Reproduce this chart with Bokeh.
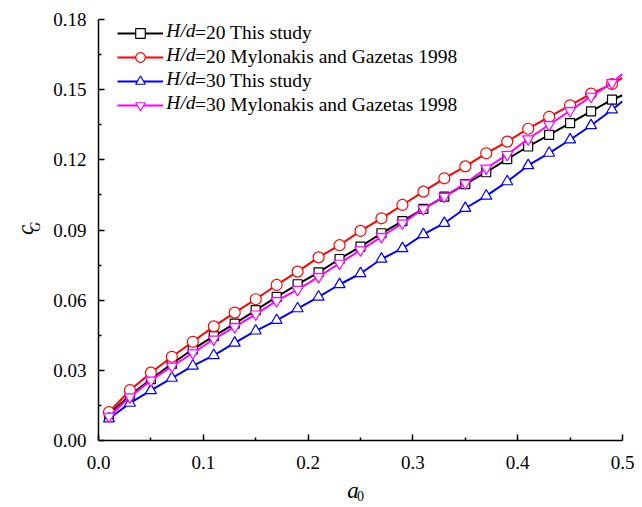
import math
from bokeh.plotting import figure
from bokeh.models import (Range1d, FixedTicker, NumeralTickFormatter, Legend, LegendItem, Label,
                          LinearAxis, CustomJSTickFormatter)
from bokeh.embed import file_html
from bokeh.resources import INLINE

# ---- data ----
a0 = [0.01, 0.03, 0.05, 0.07, 0.09, 0.11, 0.13, 0.15, 0.17, 0.19, 0.21, 0.23, 0.25,
      0.27, 0.29, 0.31, 0.33, 0.35, 0.37, 0.39, 0.41, 0.43, 0.45, 0.47, 0.49, 0.50]

h20_this = [0.0112, 0.0193, 0.0262, 0.0328, 0.0390, 0.0446, 0.0500, 0.0557, 0.0614, 0.0668,
            0.0719, 0.0776, 0.0829, 0.0886, 0.0938, 0.0990, 0.1043, 0.1096, 0.1147, 0.1203,
            0.1257, 0.1307, 0.1357, 0.1407, 0.1457, 0.1476]
h20_mg = [0.0121, 0.0215, 0.0290, 0.0358, 0.0422, 0.0488, 0.0547, 0.0604, 0.0665, 0.0722,
          0.0783, 0.0835, 0.0896, 0.0950, 0.1007, 0.1064, 0.1121, 0.1172, 0.1228, 0.1278,
          0.1333, 0.1384, 0.1433, 0.1483, 0.1524, 0.1550]
h30_this = [0.0093, 0.0160, 0.0214, 0.0267, 0.0319, 0.0364, 0.0417, 0.0469, 0.0514, 0.0564,
            0.0614, 0.0667, 0.0714, 0.0776, 0.0821, 0.0881, 0.0929, 0.0993, 0.1046, 0.1107,
            0.1176, 0.1229, 0.1286, 0.1347, 0.1414, 0.1450]
h30_mg = [0.0103, 0.0186, 0.0257, 0.0317, 0.0374, 0.0433, 0.0486, 0.0540, 0.0597, 0.0645,
          0.0700, 0.0757, 0.0814, 0.0871, 0.0929, 0.0990, 0.1043, 0.1100, 0.1164, 0.1222,
          0.1289, 0.1350, 0.1410, 0.1471, 0.1529, 0.1567]

legend_prefix = ["H/d", "H/d", "H/d", "H/d"]
legend_rest = ["=20 This study", "=20 Mylonakis and Gazetas 1998",
               "=30 This study", "=30 Mylonakis and Gazetas 1998"]

x_title, x_sub = "a", "0"
y_title, y_sub = "c", "G"

x_ticks = [0.0, 0.1, 0.2, 0.3, 0.4, 0.5]
x_minor = [0.05, 0.15, 0.25, 0.35, 0.45]
y_ticks = [0.00, 0.03, 0.06, 0.09, 0.12, 0.15, 0.18]
y_minor = [0.015, 0.045, 0.075, 0.105, 0.135, 0.165]

FONT = "Liberation Serif"

p = figure(width=634, height=507, output_backend="svg", toolbar_location=None,
           x_range=Range1d(0, 0.5), y_range=Range1d(0, 0.18),
           min_border_left=98, min_border_right=12, min_border_top=19, min_border_bottom=67)
p.outline_line_color = None
p.xgrid.visible = False
p.ygrid.visible = False
p.background_fill_color = "white"

for ax, ticks, minor, fmt in ((p.xaxis[0], x_ticks, x_minor, "0.0"), (p.yaxis[0], y_ticks, y_minor, "0.00")):
    ax.ticker = FixedTicker(ticks=ticks, minor_ticks=minor)
    ax.formatter = NumeralTickFormatter(format=fmt)
    ax.major_tick_in = 6
    ax.major_tick_out = 0
    ax.minor_tick_in = 3
    ax.minor_tick_out = 0
    ax.axis_line_width = 1.5
    ax.major_tick_line_width = 1.5
    ax.minor_tick_line_width = 1.5
    ax.axis_line_color = "black"
    ax.major_label_text_font = FONT
    ax.major_label_text_font_size = "19px"
    ax.major_label_text_color = "black"
p.xaxis.major_label_standoff = 15
p.yaxis.major_label_standoff = 12


def title_axis(tick, text, size, style, orient):
    ax = LinearAxis(ticker=FixedTicker(ticks=[tick], minor_ticks=[]),
                    formatter=CustomJSTickFormatter(args=dict(t=text), code="return t"))
    ax.axis_line_color = None
    ax.major_tick_line_color = None
    ax.minor_tick_line_color = None
    ax.major_tick_in = 0
    ax.major_tick_out = 0
    ax.major_label_text_font = FONT
    ax.major_label_text_font_size = size
    ax.major_label_text_font_style = style
    ax.major_label_text_color = "black"
    ax.major_label_orientation = orient
    ax.axis_label_text_font = FONT
    ax.axis_label_text_color = "black"
    return ax


# x-axis title: italic "a" (tick label) with subscript "0" (axis label pulled up)
xt = title_axis((353 - 98) / 1050, x_title, "23px", "italic", "horizontal")
xt.major_label_standoff = 6
xt.axis_label = x_sub
xt.axis_label_text_font_size = "14px"
xt.axis_label_text_font_style = "normal"
xt.axis_label_standoff = -15
p.add_layout(xt, "below")

# y-axis title: italic "c" (axis label, centred on the axis bounds) with subscript "G" (tick label)
yt = title_axis((440 - 222) / 2333.3, y_sub, "14px", "italic", math.pi / 2)
yt.bounds = ((440 - 281) / 2333.3, (440 - 187) / 2333.3)
yt.major_label_standoff = 15
yt.axis_label = y_title
yt.axis_label_text_font_size = "23px"
yt.axis_label_text_font_style = "italic"
yt.axis_label_standoff = -20
p.add_layout(yt, "left")

series = [
    (h20_this, "black", "square", 9),
    (h20_mg, "red", "circle", 11),
    (h30_this, "blue", "triangle", 11),
    (h30_mg, "magenta", "inverted_triangle", 11),
]
items = []
for (ys, col, mk, sz), rest in zip(series, legend_rest):
    ln = p.line(a0, ys, line_color=col, line_width=2)
    sc = p.scatter(a0[:-1], ys[:-1], marker=mk, size=sz, line_color=col, line_width=1.2,
                   fill_color="white")
    items.append(LegendItem(label=rest, renderers=[ln, sc]))

legend = Legend(items=items, location=(19, 323), orientation="vertical",
                glyph_width=46, glyph_height=24, label_height=24, spacing=0,
                label_standoff=32, padding=0, margin=0,
                border_line_color=None, background_fill_alpha=0,
                label_text_font=FONT, label_text_font_size="19.5px", label_text_color="black")
p.add_layout(legend, "center")

# italic prefix of the legend labels (H/d)
row_y = [0.1753, 0.1650, 0.1547, 0.1444]
for txt, yy in zip(legend_prefix, row_y):
    p.add_layout(Label(x=(166 - 98) / 1050, y=yy, text=txt, text_font=FONT, text_font_size="19.5px",
                       text_font_style="italic", text_baseline="middle", text_align="left",
                       text_color="black"))

open("out.html", "w").write(file_html(p, INLINE))
